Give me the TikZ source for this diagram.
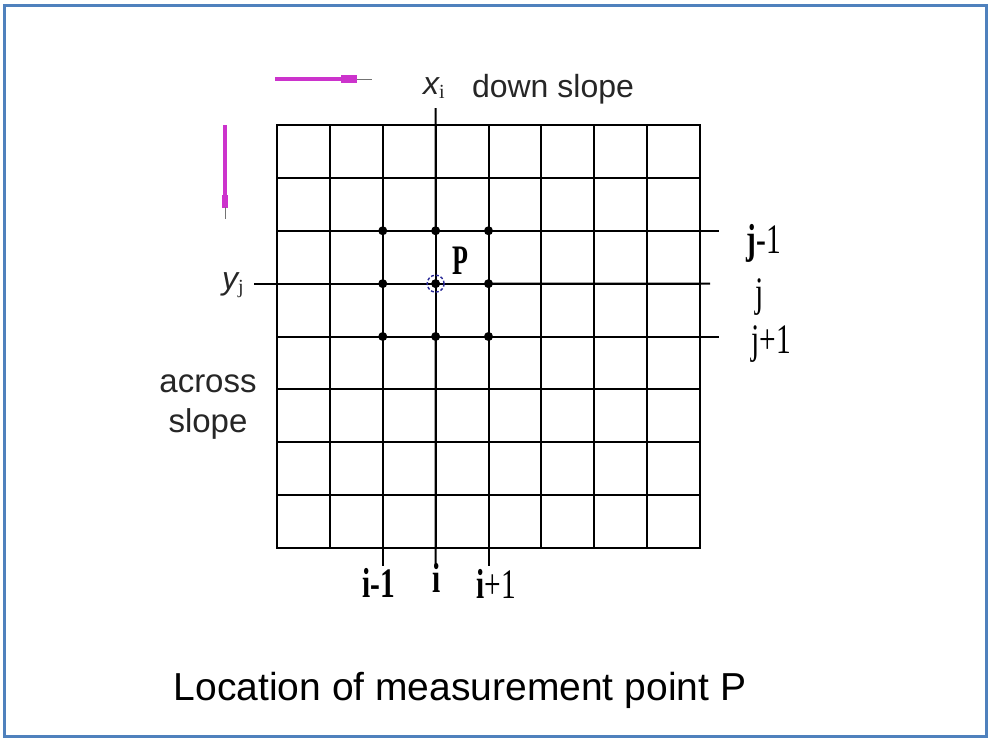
\documentclass[tikz,border=0pt]{standalone}
\usepackage{fontspec}
\setmainfont{Liberation Serif}
\newfontfamily\arial{Liberation Sans}
\usetikzlibrary{positioning}

\definecolor{framecol}{RGB}{79,129,189}
\definecolor{dircol}{RGB}{204,51,204}
\definecolor{pcol}{RGB}{40,40,150}

\begin{document}
\begin{tikzpicture}[
  x=1pt, y=-1pt,
  gridline/.style={line width=2pt, black, line cap=rect},
  extline/.style={line width=2pt, black},
  gridpt/.style={circle, fill=black, inner sep=0pt, minimum size=9pt},
  idxlab/.style={font=\fontsize{42}{44}\selectfont, inner sep=0pt},
  sanslab/.style={font=\arial\fontsize{32}{40}\selectfont, inner sep=0pt,
                  text=black!85},
  dirline/.style={line width=3.5pt, dircol},
  dirblock/.style={fill=dircol, draw=none},
  dirtail/.style={line width=1pt, black!55}
]
\useasboundingbox (0,0) rectangle (990,740);

%--- Frame
\draw[framecol, line width=3pt] (4,5.5) rectangle (986.5,736.5);

%--- Grid (8 x 8 cells)
\foreach \k in {0,...,8}{
  \draw[gridline] ({277+52.875*\k},125) -- ({277+52.875*\k},548);
  \draw[gridline] (277,{125+52.875*\k}) -- (700,{125+52.875*\k});
}

%--- Neighbourhood points
\foreach \c/\n in {2/im, 3/i, 4/ip}
  \foreach \r/\m in {2/jm, 3/j, 4/jp}
    \node[gridpt] (pt-\n-\m) at ({277+52.875*\c},{125+52.875*\r}) {};
\node[circle, draw=pcol, densely dashed, line width=1.4pt,
      minimum size=17pt, inner sep=0pt] (meas) at (pt-i-j) {};

%--- Extended index lines
\coordinate (ibot-m) at (382.75,566);
\coordinate (ibot)   at (435.6,566);
\coordinate (ibot-p) at (488.5,566);
\coordinate (itop)   at (435.6,108);
\coordinate (jend-m) at (719,230.75);
\coordinate (jend)   at (710,283.6);
\coordinate (jend-p) at (719,336.5);
\coordinate (yjtick) at (254,283.6);
\draw[extline] (pt-im-jp.center) -- (ibot-m);
\draw[extline] (pt-i-jp.center)  -- (ibot);
\draw[extline] (pt-ip-jp.center) -- (ibot-p);
\draw[extline] (pt-i-jm.center)  -- (itop);
\draw[extline] (pt-ip-jm.center) -- (jend-m);
\draw[extline] (pt-ip-j.center)  -- (jend);
\draw[extline] (pt-ip-jp.center) -- (jend-p);
\draw[extline] (yjtick) -- (277,283.6);

%--- Index labels
\node[idxlab] (lab-im) at (379,583) {\scalebox{0.7}[1]{\textbf{i-1}}};
\node[idxlab] (lab-i)  at (437,578) {\scalebox{0.7}[1]{\textbf{i}}};
\node[idxlab] (lab-ip) at (496,584) {\scalebox{0.7}[1]{\textbf{i}+1}};
\node[idxlab] (lab-jm) at (764,243) {\scalebox{0.7}[1]{\textbf{j}-1}};
\node[idxlab] (lab-j)  at (760,297) {\scalebox{0.7}[1]{j}};
\node[idxlab] (lab-jp) at (771,344) {\scalebox{0.7}[1]{j+1}};
\node[idxlab] (lab-p)  at (460,261) {\scalebox{0.62}[1]{\textbf{P}}};

%--- Axis labels
\node[sanslab] (xi) at (434,88) {\itshape x\normalfont\fontsize{20}{20}\selectfont\raisebox{-4pt}{i}};
\node[sanslab] (down) at (553,89) {down slope};
\node[sanslab] (yj) at (233,285) {\itshape y\normalfont\fontsize{20}{20}\selectfont\raisebox{-4pt}{j}};
\node[sanslab, align=center, font=\arial\fontsize{33}{40}\selectfont]
  (across) at (208,407) {across\\slope};

%--- Direction marks
\coordinate (hstart) at (275,79);
\coordinate (hend)   at (345,79);
\coordinate (htail)  at (372,79);
\draw[dirline] (hstart) -- (hend);
\fill[dirblock] (341,75) rectangle (357,82.5);
\draw[dirtail] (357,79) -- (htail);
\coordinate (vstart) at (225,125);
\coordinate (vend)   at (225,207);
\coordinate (vtail)  at (225,219);
\draw[dirline] (vstart) -- (vend);
\fill[dirblock] (221.5,195) rectangle (227.5,208);
\draw[dirtail] (vend) -- (vtail);

%--- Caption
\node[font=\arial\fontsize{39}{44}\selectfont, inner sep=0pt] (caption)
  at (460,690) {Location of measurement point P};
\end{tikzpicture}
\end{document}
